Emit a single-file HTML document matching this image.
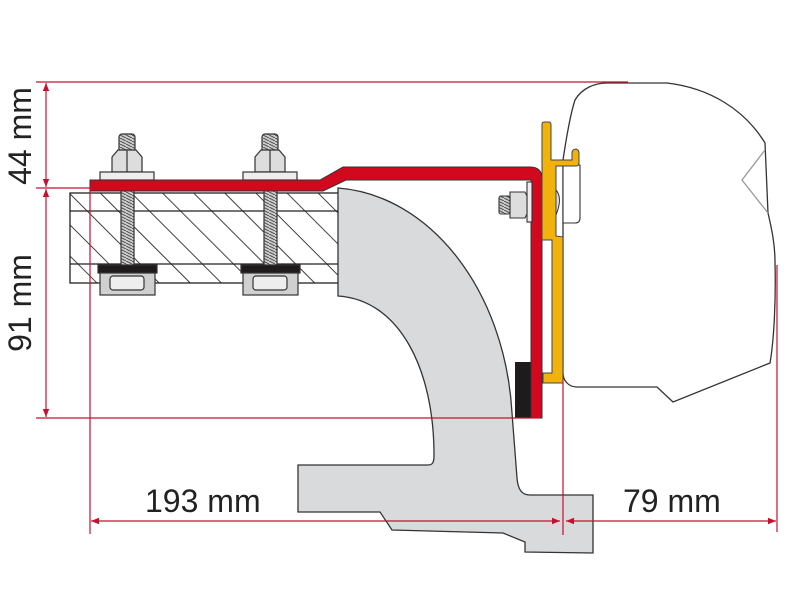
<!DOCTYPE html>
<html><head><meta charset="utf-8"><style>html,body{margin:0;padding:0;background:#fff;}svg{display:block}</style></head>
<body>
<svg width="800" height="600" viewBox="0 0 800 600" xmlns="http://www.w3.org/2000/svg">
<defs>
<pattern id="h" width="22" height="22" patternUnits="userSpaceOnUse" patternTransform="rotate(-45)">
<rect width="22" height="22" fill="#fff"/><line x1="0" y1="0" x2="0" y2="22" stroke="#111" stroke-width="1.6"/>
</pattern>
<marker id="a" viewBox="0 0 10 10" refX="10" refY="5" markerWidth="10" markerHeight="8" orient="auto-start-reverse" markerUnits="userSpaceOnUse"><path d="M0,1 L10,5 L0,9 Z" fill="#c8102e"/></marker>
<pattern id="t" width="6" height="3" patternUnits="userSpaceOnUse"><rect width="6" height="3" fill="#ccc"/><line x1="0" y1="0" x2="6" y2="3" stroke="#444" stroke-width="0.9"/></pattern>
</defs>

<rect x="70" y="193" width="270" height="90" fill="url(#h)" stroke="#222" stroke-width="1.3"/>
<line x1="70" y1="211" x2="340" y2="211" stroke="#222" stroke-width="1.2"/>
<line x1="70" y1="264" x2="340" y2="264" stroke="#222" stroke-width="1.2"/>

<path d="M338,188 C430,195 505,290 512,413 L517,478 C518,490 522,495 530,495 L593,495 L593,553 L525,552 L525,542 L503,533 L392,530 L380,512 L298,512 L298,465 L428,465 C433,465 434,462 434,455 C434,370 400,300 338,296 Z" fill="#d9dadc" stroke="#333" stroke-width="1.3"/>
<rect x="515" y="362" width="18" height="56" fill="#1e1b1d"/>

<g stroke="#333" stroke-width="1.2">
<g>
<rect x="121" y="188" width="13" height="78" fill="url(#t)"/>
<rect x="119" y="134" width="16" height="18" rx="3" fill="url(#t)"/>
<path d="M112,157 L118,150 L136,150 L142,157 L142,172 L112,172 Z" fill="#ddd"/>
<line x1="127" y1="150" x2="127" y2="172"/>
<rect x="100" y="172" width="54" height="8" fill="#eee"/>
<rect x="98" y="265" width="59" height="8" fill="#1e1b1d"/>
<rect x="100" y="273" width="55" height="22" fill="#d0d0d0"/>
<rect x="110" y="276" width="34" height="14" rx="3" fill="#eee"/>
</g>
<g transform="translate(143,0)">
<rect x="121" y="188" width="13" height="78" fill="url(#t)"/>
<rect x="119" y="134" width="16" height="18" rx="3" fill="url(#t)"/>
<path d="M112,157 L118,150 L136,150 L142,157 L142,172 L112,172 Z" fill="#ddd"/>
<line x1="127" y1="150" x2="127" y2="172"/>
<rect x="100" y="172" width="54" height="8" fill="#eee"/>
<rect x="98" y="265" width="59" height="8" fill="#1e1b1d"/>
<rect x="100" y="273" width="55" height="22" fill="#d0d0d0"/>
<rect x="110" y="276" width="34" height="14" rx="3" fill="#eee"/>
</g>
</g>

<path d="M90,180 L320,180 L343,167 L530,167 Q542,167 542,179 L542,418 L531,418 L531,180 L346,180 L323,191 L90,191 Z" fill="#d2091e" stroke="#333" stroke-width="1"/>

<g stroke="#333" stroke-width="1.1">
<rect x="527" y="182" width="5" height="40" fill="#eee"/>
<path d="M510,192 L525,192 L527,196 L527,214 L525,218 L510,218 Z" fill="#ddd"/>
<rect x="499" y="196" width="11" height="18" rx="2" fill="url(#t)"/>
</g>

<path d="M563,160 C566,140 570,115 575,100 C582,88 595,83 607,83 L667,83 C710,88 745,110 765,143 L768,213 C772,230 775,245 775,262 C776,300 774,340 770,363 L673,402 L657,387 L577,387 C568,387 563,380 563,373 Z" fill="#fff" stroke="#333" stroke-width="1.3"/>
<path d="M765,150 L742,180 L768,213" fill="none" stroke="#999" stroke-width="1.3"/>
<path d="M563,165 L580,165 L580,218 Q580,223 575,223 L563,223 Z" fill="#fff" stroke="#333" stroke-width="1.1"/>
<path d="M556,190 Q563,198 556,215" fill="#ddd" stroke="#333"/>

<path d="M542,124 Q542,122 545,122 L549,122 Q551,122 551,125 L551,160 L572,160 L572,152 Q573,149 576,149 Q579,150 579,153 L579,163 Q579,166 576,166 L556,166 L556,236 L563,237 L563,383 L543,383 L543,373 L552,373 L552,240 L542,240 Z" fill="#f2b20e" stroke="#444" stroke-width="1"/>

<g stroke="#c8102e" stroke-width="1.2" fill="none">
<line x1="36" y1="82" x2="628" y2="82"/>
<line x1="36" y1="188" x2="92" y2="188"/>
<line x1="36" y1="418" x2="540" y2="418"/>
<line x1="46" y1="83" x2="46" y2="187" marker-start="url(#a)" marker-end="url(#a)"/>
<line x1="46" y1="189" x2="46" y2="417" marker-start="url(#a)" marker-end="url(#a)"/>
<line x1="90" y1="188" x2="90" y2="534"/>
<line x1="563" y1="380" x2="563" y2="535"/>
<line x1="777" y1="265" x2="777" y2="532"/>
<line x1="91" y1="521" x2="560" y2="521" marker-start="url(#a)" marker-end="url(#a)"/>
<line x1="566" y1="521" x2="776" y2="521" marker-start="url(#a)" marker-end="url(#a)"/>
</g>

<g font-family="Liberation Sans, sans-serif" font-size="32" fill="#222">
<text x="145" y="512">193 mm</text>
<text x="623" y="512">79 mm</text>
<text transform="translate(31,136) rotate(-90)" text-anchor="middle">44 mm</text>
<text transform="translate(31,303) rotate(-90)" text-anchor="middle">91 mm</text>
</g>
</svg>
</body></html>
